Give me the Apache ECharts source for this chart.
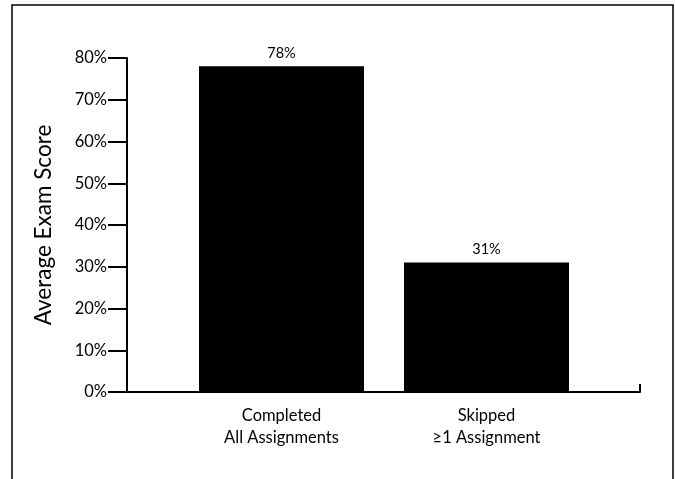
<!DOCTYPE html>
<html>
<head>
<meta charset="utf-8">
<script src="https://cdn.jsdelivr.net/npm/echarts@6/dist/echarts.min.js"></script>
<style>
  html, body { margin: 0; padding: 0; background: #fff; }
  #chart { width: 675px; height: 479px; }
</style>
</head>
<body>
<div id="chart"></div>
<script>
// data
const categories = ['Completed\nAll Assignments', 'Skipped\n≥1 Assignment'];
const scores = [78, 31];
const yMin = 0, yMax = 80, yStep = 10;

const font = 'Lato, "Open Sans", sans-serif';
const chart = echarts.init(document.getElementById('chart'));

chart.setOption({
    animation: false,
    backgroundColor: '#fff',
    textStyle: { fontFamily: font, color: '#000' },
    graphic: [{
        type: 'rect',
        shape: { x: 12, y: 5, width: 661, height: 490 },
        style: { fill: 'none', stroke: '#000', lineWidth: 1.5 },
        silent: true
    }],
    grid: [
        // frame with the visible axes
        { left: 127, right: 35, top: 58, bottom: 87 },
        // narrower grid holding the bars
        { left: 179, right: 86, top: 58, bottom: 87 }
    ],
    xAxis: [
        {
            gridIndex: 0, type: 'value', min: 0, max: 1, interval: 1,
            axisLine: { show: true, lineStyle: { color: '#000', width: 2 } },
            axisTick: { show: true, inside: true, length: 8, lineStyle: { color: '#000', width: 2 } },
            axisLabel: { show: false },
            splitLine: { show: false }
        },
        {
            gridIndex: 1, type: 'category', data: categories,
            axisLine: { show: false },
            axisTick: { show: false },
            axisLabel: { margin: 13, fontSize: 16.5, lineHeight: 22, color: '#000', fontFamily: font }
        }
    ],
    yAxis: [
        {
            gridIndex: 0, type: 'value', min: yMin, max: yMax, interval: yStep,
            name: 'Average Exam Score', nameLocation: 'middle', nameGap: 72,
            nameTextStyle: { fontSize: 22.5, color: '#000', fontFamily: font },
            axisLine: { show: true, lineStyle: { color: '#000', width: 2 } },
            axisTick: { show: true, length: 19, lineStyle: { color: '#000', width: 2 } },
            axisLabel: { formatter: '{value}%', margin: 20, fontSize: 16.5, color: '#000', fontFamily: font },
            splitLine: { show: false }
        },
        {
            gridIndex: 1, type: 'value', min: yMin, max: yMax, interval: yStep, show: false
        }
    ],
    series: [{
        type: 'bar',
        xAxisIndex: 1,
        yAxisIndex: 1,
        data: scores,
        barWidth: 165,
        itemStyle: { color: '#000' },
        label: {
            show: true, position: 'top', distance: 6,
            formatter: '{c}%', fontSize: 14.5, color: '#000', fontFamily: font
        }
    }]
});
</script>
</body>
</html>
